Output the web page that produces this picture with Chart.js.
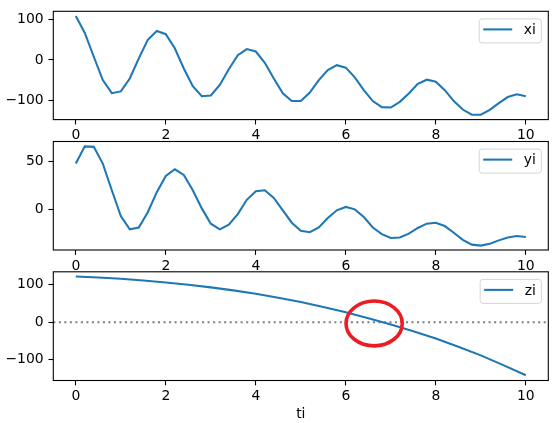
<!DOCTYPE html>
<html lang="en">
<head>
<meta charset="UTF-8">
<title>xi / yi / zi</title>
<script src="https://cdn.jsdelivr.net/npm/chart.js@4"></script>
<style>
  body { margin: 0; background: #fff; }
  #wrap { position: relative; width: 558px; height: 423px; }
  #wrap canvas { position: absolute; left: 0; top: 0; }
</style>
</head>
<body>
<div id="wrap">
  <canvas id="cx" width="558" height="423"></canvas>
  <canvas id="cy" width="558" height="423"></canvas>
  <canvas id="cz" width="558" height="423"></canvas>
</div>
<script>
// sample times for xi / yi
const ti = [0, 0.2, 0.4, 0.6, 0.8, 1, 1.2, 1.4, 1.6, 1.8,
            2, 2.2, 2.4, 2.6, 2.8, 3, 3.2, 3.4, 3.6, 3.8,
            4, 4.2, 4.4, 4.6, 4.8, 5, 5.2, 5.4, 5.6, 5.8,
            6, 6.2, 6.4, 6.6, 6.8, 7, 7.2, 7.4, 7.6, 7.8,
            8, 8.2, 8.4, 8.6, 8.8, 9, 9.2, 9.4, 9.6, 9.8, 10];
const xi = [109, 67, 8, -50, -82.5, -78, -46, 4, 50, 72,
            64, 29, -21, -65, -90, -88, -62, -23, 12, 27,
            21, -7, -46, -83, -102, -102, -81, -50, -25, -13,
            -19, -43, -75, -102, -117, -118, -104, -83, -59, -49,
            -54, -75, -102, -123, -136, -136, -124, -107, -92, -85, -90];
const yi = [48, 66, 65.5, 48, 20, -7, -21, -19, -3, 18,
            35, 42, 36, 20, 1, -15, -21, -16, -5, 10,
            19, 20, 12, -1, -14, -22.5, -24, -19, -9, -1,
            2.5, 0, -8, -19, -26, -30, -29.5, -25.5, -19.5, -15,
            -14, -17.5, -24.5, -32, -37, -38, -36, -32.5, -29.5, -28, -29];
// zi curve
const tz = [0, 0.5, 1, 1.5, 2, 2.5, 3, 3.5, 4, 4.5, 5,
            5.5, 6, 6.5, 7, 7.5, 8, 8.5, 9, 9.5, 10];
const zi = [122, 119.5, 116, 111.5, 106, 100, 93, 85, 76, 65.5, 54,
            41, 27, 11, -6, -24, -43, -65, -88, -114, -141];

const xTicks = [0, 2, 4, 6, 8, 10];
const xiTicks = [-100, 0, 100];
const yiTicks = [0, 50];
const ziTicks = [-100, 0, 100];
const zeroLevel = 0;
const markT = 6.63, markZ = -3;

const FONT = { family: 'DejaVu Sans', size: 13.9 };
const fmt = v => (v < 0 ? '\u2212' + (-v) : String(v));

// full box round the plot area
const frame = {
  id: 'frame',
  afterDatasetsDraw(chart) {
    const a = chart.chartArea, c = chart.ctx;
    c.save();
    c.strokeStyle = '#000';
    c.lineWidth = 1.1;
    c.strokeRect(a.left, a.top, a.right - a.left, a.bottom - a.top);
    c.restore();
  }
};

// matplotlib style legend in the upper right corner
function legendBox(label) {
  return {
    id: 'legendBox',
    afterDraw(chart) {
      const a = chart.chartArea, c = chart.ctx;
      c.save();
      c.font = '13.9px "DejaVu Sans"';
      const tw = c.measureText(label).width;
      const w = 5.6 + 27.8 + 11.1 + tw + 5.6, h = 24;
      const x = a.right - 6.9 - w, y = a.top + 7.6;
      c.beginPath();
      if (c.roundRect) c.roundRect(x, y, w, h, 2.8); else c.rect(x, y, w, h);
      c.fillStyle = 'rgba(255,255,255,0.8)';
      c.fill();
      c.strokeStyle = 'rgba(204,204,204,0.8)';
      c.lineWidth = 1;
      c.stroke();
      c.beginPath();
      c.moveTo(x + 4, y + 10.5);
      c.lineTo(x + 33, y + 10.5);
      c.strokeStyle = '#1f77b4';
      c.lineWidth = 2.08;
      c.stroke();
      c.fillStyle = '#000';
      c.textBaseline = 'alphabetic';
      c.fillText(label, x + 44.5, y + 15.3);
      c.restore();
    }
  };
}

const zeroLine = {
  id: 'zeroLine',
  beforeDatasetsDraw(chart) {
    const a = chart.chartArea, c = chart.ctx;
    const py = chart.scales.y.getPixelForValue(zeroLevel);
    c.save();
    c.setLineDash([2.08, 3.43]);
    c.strokeStyle = 'gray';
    c.lineWidth = 2.08;
    c.beginPath();
    c.moveTo(a.left, py);
    c.lineTo(a.right, py);
    c.stroke();
    c.restore();
  }
};

const ring = {
  id: 'ring',
  afterDraw(chart) {
    const c = chart.ctx;
    const cx = chart.scales.x.getPixelForValue(markT);
    const cy = chart.scales.y.getPixelForValue(markZ);
    c.save();
    c.strokeStyle = '#ed1c24';
    c.lineWidth = 3.6;
    c.beginPath();
    c.ellipse(cx, cy, 28.1, 22.4, 0, 0, 2 * Math.PI);
    c.stroke();
    c.restore();
  }
};

const tickGrid = { display: true, drawOnChartArea: false, drawTicks: true, tickLength: 4.86, tickWidth: 1.1, tickColor: '#000' };

function makeChart(id, xs, ys, label, yTicks, yMin, yMax, top, bottom, extra, xTitle) {
  return new Chart(document.getElementById(id), {
    type: 'line',
    data: {
      datasets: [{
        label: label,
        data: xs.map((t, i) => ({ x: t, y: ys[i] })),
        borderColor: '#1f77b4',
        borderWidth: 2.08,
        pointRadius: 0,
        tension: 0,
        fill: false
      }]
    },
    options: {
      responsive: false,
      animation: false,
      events: [],
      layout: { padding: { top: top, left: 0, right: 9.7, bottom: 0 } },
      plugins: { legend: { display: false }, tooltip: { enabled: false } },
      scales: {
        x: {
          type: 'linear', min: -0.5, max: 10.5,
          afterBuildTicks: s => { s.ticks = xTicks.map(v => ({ value: v })); },
          afterFit: s => { s.height = 423 - bottom; s.paddingLeft = 0; s.paddingRight = 0; },
          grid: tickGrid,
          border: { display: false },
          ticks: { color: '#000', font: FONT, padding: 3, maxRotation: 0, autoSkip: false, callback: fmt },
          title: xTitle
            ? { display: true, text: xTitle, color: '#000', font: FONT, padding: { top: 0, bottom: 0 } }
            : { display: false }
        },
        y: {
          min: yMin, max: yMax,
          afterBuildTicks: s => { s.ticks = yTicks.map(v => ({ value: v })); },
          afterFit: s => { s.width = 53.3; s.paddingTop = 0; s.paddingBottom = 0; },
          grid: tickGrid,
          border: { display: false },
          ticks: { color: '#000', font: FONT, padding: 4.86, autoSkip: false, callback: fmt }
        }
      }
    },
    plugins: [frame, legendBox(label)].concat(extra)
  });
}

makeChart('cx', ti, xi, 'xi', xiTicks, -148, 120.8, 11.3, 119.6, [], null);
makeChart('cy', ti, yi, 'yi', yiTicks, -42.6, 71.1, 141.5, 250, [], null);
makeChart('cz', tz, zi, 'zi', ziTicks, -155, 134.5, 271.8, 380.5, [zeroLine, ring], 'ti');
</script>
</body>
</html>
